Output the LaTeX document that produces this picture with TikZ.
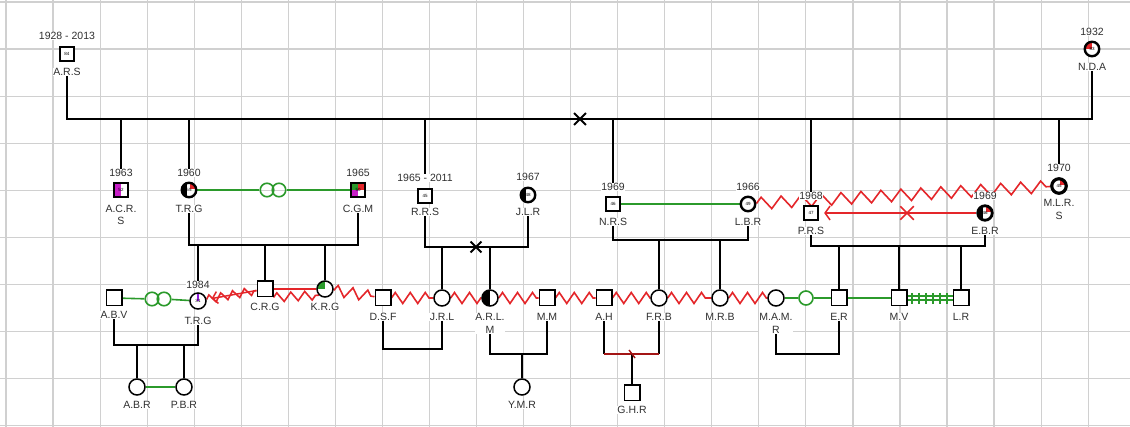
\documentclass[tikz,border=0pt]{standalone}
\usepackage{fontspec}
\setmainfont{Liberation Sans}
\usetikzlibrary{decorations.pathmorphing,arrows.meta,shapes.misc,calc}
\pgfdeclarelayer{gridlayer}
\pgfdeclarelayer{linklayer}
\pgfsetlayers{gridlayer,linklayer,main}
\definecolor{gridc}{HTML}{D0D0D0}
\definecolor{txt}{HTML}{303030}
\definecolor{grn}{HTML}{2B9A2B}
\definecolor{rd}{HTML}{E4262A}
\definecolor{drd}{HTML}{A31515}
\definecolor{mag}{HTML}{C71FC7}
\begin{document}
\begin{tikzpicture}[x=1pt,y=-1pt,
  lbl/.style={font=\fontsize{10.5}{12.5}\selectfont, text=txt, inner sep=0.5pt, align=center, fill=white},
  psq/.style={rectangle, draw=black, fill=white, line width=1.5pt, minimum size=15.5pt, inner sep=0pt},
  pci/.style={circle, draw=black, fill=white, line width=1.5pt, minimum size=16pt, inner sep=0pt},
  isq/.style={psq, line width=2.3pt, minimum size=14pt, font=\fontsize{4.5}{5}\selectfont},
  ici/.style={pci, line width=2.4pt, minimum size=14.5pt, font=\fontsize{4.5}{5}\selectfont},
  con/.style={draw=black, line width=1.8pt},
  gl/.style={draw=grn, line width=1.6pt},
  ring/.style={circle, draw=grn, line width=1.6pt, minimum size=13.5pt, inner sep=0pt},
  zz/.style={draw=rd, line width=1.6pt, decorate, decoration={zigzag, segment length=15pt, amplitude=5.5pt}},
  xm/.style={cross out, draw=black, line width=1.8pt, minimum size=8pt, inner sep=0pt},
]
\useasboundingbox (0,0) rectangle (1130,427);
\begin{pgfonlayer}{gridlayer}
  \fill[white] (0,0) rectangle (1130,427);
  \foreach \i in {0,...,23} \draw[gridc, line width=1.2pt] ({6+47.05*\i},0) -- ({6+47.05*\i},427);
  \foreach \j in {0,...,9} \draw[gridc, line width=1.2pt] (0,{2+47.1*\j}) -- (1130,{2+47.1*\j});
\end{pgfonlayer}

% ---------- generation 1
\node[isq] (ARS) at (67,54) {84};
\node[lbl] (ARS-y) at (67,36) {1928 - 2013};
\node[lbl] (ARS-n) at (67,72) {A.R.S};
\node[ici, path picture={\fill[rd] (path picture bounding box.center) rectangle (path picture bounding box.north west);}] (NDA) at (1092,49) {83};
\node[lbl] (NDA-y) at (1092,32) {1932};
\node[lbl] (NDA-n) at (1092,67) {N.D.A};

% ---------- generation 2
\node[isq, path picture={\fill[mag] (path picture bounding box.south west) rectangle ([xshift=-0.5pt]path picture bounding box.north);}] (ACRS) at (121,190) {52};
\node[lbl] (ACRS-y) at (121,173) {1963};
\node[lbl] (ACRS-n) at (121,215) {A.C.R.\\S};
\node[ici, path picture={\fill[black] (path picture bounding box.south west) rectangle ([xshift=-2.5pt]path picture bounding box.north); \fill[rd] ([xshift=1pt,yshift=1pt]path picture bounding box.center) rectangle (path picture bounding box.north east); \fill[grn] ([xshift=2pt]path picture bounding box.center) rectangle (path picture bounding box.east);}] (TRGa) at (189,190) {55};
\node[lbl] (TRGa-y) at (189,173) {1960};
\node[lbl] (TRGa-n) at (189,209) {T.R.G};
\node[isq, path picture={\fill[mag] (path picture bounding box.south west) rectangle (path picture bounding box.center); \fill[grn] (path picture bounding box.north west) rectangle (path picture bounding box.center); \fill[rd] (path picture bounding box.center) rectangle (path picture bounding box.north east);}] (CGM) at (358,190) {50};
\node[lbl] (CGM-y) at (358,173) {1965};
\node[lbl] (CGM-n) at (358,209) {C.G.M};
\node[isq] (RRS) at (425,196) {45};
\node[lbl] (RRS-y) at (425,178) {1965 - 2011};
\node[lbl] (RRS-n) at (425,212) {R.R.S};
\node[ici, path picture={\fill[black] (path picture bounding box.south west) rectangle ([xshift=-2.5pt]path picture bounding box.north);}] (JLR) at (528,195) {48};
\node[lbl] (JLR-y) at (528,177) {1967};
\node[lbl] (JLR-n) at (528,212) {J.L.R};
\node[isq] (NRS) at (613,204) {46};
\node[lbl] (NRS-y) at (613,187) {1969};
\node[lbl] (NRS-n) at (613,222) {N.R.S};
\node[ici] (LBR) at (748,204) {49};
\node[lbl] (LBR-y) at (748,187) {1966};
\node[lbl] (LBR-n) at (748,222) {L.B.R};
\node[isq] (PRS) at (811,213) {47};
\node[lbl] (PRS-y) at (811,196) {1968};
\node[lbl] (PRS-n) at (811,231) {P.R.S};
\node[ici, line width=2.8pt, path picture={\fill[black] (path picture bounding box.south west) rectangle ([xshift=-2.5pt]path picture bounding box.north); \fill[rd] ([xshift=1pt,yshift=1pt]path picture bounding box.center) rectangle (path picture bounding box.north east);}] (EBR) at (985,213) {46};
\node[lbl] (EBR-y) at (985,196) {1969};
\node[lbl] (EBR-n) at (985,231) {E.B.R};
\node[ici, line width=3.2pt, path picture={\fill[rd] ([xshift=1pt,yshift=1pt]path picture bounding box.center) rectangle (path picture bounding box.north east);}] (MLRS) at (1059,186) {45};
\node[lbl] (MLRS-y) at (1059,168) {1970};
\node[lbl] (MLRS-n) at (1059,209.5) {M.L.R.\\S};
\node[ring] (R1) at (267,190) {};
\node[ring] (R2) at (279,190) {};

% ---------- generation 3
\node[psq] (ABV) at (114,298) {};
\node[lbl] (ABV-n) at (114,315) {A.B.V};
\node[pci, font=\fontsize{4.5}{5}\selectfont, path picture={\fill[mag!70!blue] ([xshift=-1pt]path picture bounding box.center) rectangle ([xshift=1pt,yshift=3pt]path picture bounding box.north);}] (TRGb) at (198,301) {31};
\node[lbl] (TRGb-y) at (198,285) {1984};
\node[lbl] (TRGb-n) at (198,321) {T.R.G};
\node[psq] (CRG) at (265,289) {};
\node[lbl] (CRG-n) at (265,307) {C.R.G};
\node[pci, path picture={\fill[grn] (path picture bounding box.center) rectangle (path picture bounding box.north west);}] (KRG) at (325,289) {};
\node[lbl] (KRG-n) at (325,307) {K.R.G};
\node[psq] (DSF) at (383,298) {};
\node[lbl] (DSF-n) at (383,317) {D.S.F};
\node[pci] (JRL) at (442,298) {};
\node[lbl] (JRL-n) at (442,317) {J.R.L};
\node[pci, path picture={\fill[black] (path picture bounding box.south west) rectangle (path picture bounding box.north);}] (ARLM) at (490,298) {};
\node[lbl] (ARLM-n) at (490,323.5) {A.R.L.\\M};
\node[psq] (MM) at (547,298) {};
\node[lbl] (MM-n) at (547,317) {M.M};
\node[psq] (AH) at (604,298) {};
\node[lbl] (AH-n) at (604,317) {A.H};
\node[pci] (FRB) at (659,298) {};
\node[lbl] (FRB-n) at (659,317) {F.R.B};
\node[pci] (MRB) at (720,298) {};
\node[lbl] (MRB-n) at (720,317) {M.R.B};
\node[pci] (MAMR) at (776,298) {};
\node[lbl] (MAMR-n) at (776,323.5) {M.A.M.\\R};
\node[ring, fill=white, minimum size=14pt] (GC) at (806,298) {};
\node[psq] (ER) at (839,298) {};
\node[lbl] (ER-n) at (839,317) {E.R};
\node[psq] (MV) at (899,298) {};
\node[lbl] (MV-n) at (899,317) {M.V};
\node[psq] (LR) at (961,298) {};
\node[lbl] (LR-n) at (961,317) {L.R};
\node[ring] (R3) at (152,299) {};
\node[ring] (R4) at (164,299) {};

% ---------- generation 4
\node[pci] (ABR) at (137,387) {};
\node[lbl] (ABR-n) at (137,405) {A.B.R};
\node[pci] (PBR) at (184,387) {};
\node[lbl] (PBR-n) at (184,405) {P.B.R};
\node[pci] (YMR) at (522,387) {};
\node[lbl] (YMR-n) at (522,405) {Y.M.R};
\node[psq] (GHR) at (632,393) {};
\node[lbl] (GHR-n) at (632,410) {G.H.R};

% ---------- marks
\coordinate (bar) at (580,119);
\node[xm, minimum size=10pt] (X1) at (bar) {};
\coordinate (c1) at (273,245);
\coordinate (c2) at (476,247);
\node[xm, minimum size=9pt] (X2) at (c2) {};
\coordinate (c3) at (680,240);
\coordinate (c4) at (900,246);
\coordinate (c5) at (156,345);
\coordinate (c6) at (412,349);
\coordinate (c7) at (522,354);
\coordinate (c8) at (632,354);
\coordinate (c9) at (808,354);
\node[xm, draw=rd, line width=1.5pt, minimum size=12pt] (X3) at (907,213) {};

\begin{pgfonlayer}{linklayer}
  % descent lines
  \draw[con, line width=2.5pt] (ARS-n.south) |- (bar) -| (NDA-n.south);
  \foreach \n in {ACRS,TRGa,RRS,NRS,PRS,MLRS} \draw[con] (\n-y.north) -- (\n-y.north |- bar);
  \draw[con] (TRGa-n.south) |- (c1) -| (CGM-n.south);
  \foreach \n in {TRGb-y,CRG,KRG} \draw[con] (\n.north) -- (\n.north |- c1);
  \draw[con] (RRS-n.south) |- (c2) -| (JLR-n.south);
  \foreach \n in {JRL,ARLM} \draw[con] (\n.north) -- (\n.north |- c2);
  \draw[con] (NRS-n.south) |- (c3) -| (LBR-n.south);
  \foreach \n in {FRB,MRB} \draw[con] (\n.north) -- (\n.north |- c3);
  \draw[con] (PRS-n.south) |- (c4) -| (EBR-n.south);
  \foreach \n in {ER,MV,LR} \draw[con] (\n.north) -- (\n.north |- c4);
  \draw[con] (ABV-n.south) |- (c5) -| (TRGb-n.south);
  \foreach \n in {ABR,PBR} \draw[con] (\n.north) -- (\n.north |- c5);
  \draw[con] (DSF-n.south) |- (c6) -| (JRL-n.south);
  \draw[con] (ARLM-n.south) |- (c7) -| (MM-n.south);
  \draw[con] (YMR.north) -- (YMR.north |- c7);
  \draw[con] (AH-n.south) -- (AH-n.south |- c8);
  \draw[con] (FRB-n.south) -- (FRB-n.south |- c8);
  \draw[draw=drd, line width=1.8pt] (AH-n.south |- c8) -- (FRB-n.south |- c8);
  \draw[con] (GHR.north) -- (GHR.north |- c8);
  \draw[draw=drd, line width=1.4pt] ($(c8)+(-3,-4)$) -- ($(c8)+(3,4)$);
  \draw[con] (MAMR-n.south) |- (c9) -| (ER-n.south);
  % green relations
  \draw[gl] (TRGa) -- (R1);
  \draw[gl] (R2) -- (CGM);
  \draw[gl] (NRS) -- (LBR);
  \draw[gl] (ABV) -- (R3);
  \draw[gl] (R4) -- (TRGb);
  \draw[gl] (ABR) -- (PBR);
  \draw[gl] (MAMR) -- (GC);
  \draw[gl] (GC) -- (ER);
  \draw[gl] (ER) -- (MV);
  \draw[gl] ([yshift=2.2pt]MV.east) -- ([yshift=2.2pt]LR.west);
  \draw[gl] ([yshift=-2.2pt]MV.east) -- ([yshift=-2.2pt]LR.west);
  \foreach \x in {912,919,...,947} \draw[gl, line width=1.3pt] (\x,293) -- (\x,304);
  % red relations
  \draw[zz, decoration={zigzag, segment length=20pt, amplitude=6pt}] (LBR) -- (MLRS);
  \draw[draw=rd, line width=1.5pt, -{Straight Barb[length=5pt,width=14pt]}, shorten >=5pt] (EBR) -- (PRS);
  \draw[zz, decoration={zigzag, segment length=12pt, amplitude=4pt}] (TRGb) -- (CRG);
  \draw[draw=rd, line width=1.5pt] (CRG) -- (KRG);
  \draw[zz, decoration={zigzag, segment length=14pt, amplitude=4.5pt}] (CRG.south east) -- (KRG.south west);
  \draw[draw=rd, line width=1.5pt, -{Straight Barb[length=5pt,width=12pt]}, shorten >=5pt] (CRG) -- (TRGb);
  \foreach \a/\b in {KRG/DSF,DSF/JRL,JRL/ARLM,ARLM/MM,MM/AH,AH/FRB,FRB/MRB,MRB/MAMR}
    \draw[zz] (\a) -- (\b);
\end{pgfonlayer}
\end{tikzpicture}
\end{document}
